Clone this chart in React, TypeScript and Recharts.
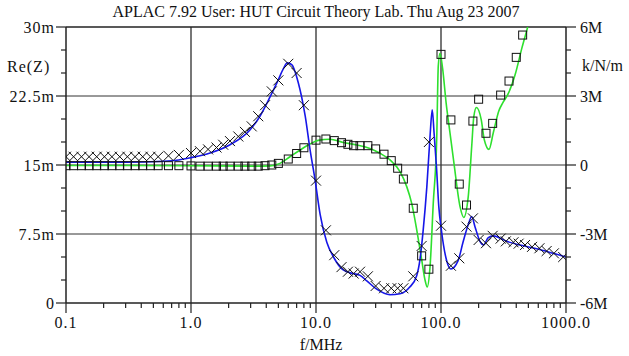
import { ComposedChart, Line, XAxis, YAxis, ReferenceLine } from 'recharts'

const FONT = 'Liberation Serif'
const BLUE = '#1616e8'
const GREEN = '#2ee02e'
const INK = '#222'

// simulated Re(Z) in mOhm (left axis)
const zSimFreq = [0.1, 0.3, 0.6, 0.8, 1.0, 1.42, 2.05, 2.96, 3.56, 4.29, 4.97, 5.5, 5.9, 6.4, 7.2, 8.2, 9.0, 9.8, 10.8, 12.2, 13.8, 16.5, 19.8, 22.5, 25.5, 30.6, 39, 47, 56, 64, 68, 72, 77, 81.7, 85.1, 88, 92, 96, 101, 111, 120, 137, 150, 165, 176, 187, 205, 218, 239, 262, 336, 428, 583, 791, 1000]
const zSimVal = [15.3, 15.3, 15.4, 15.55, 15.8, 16.3, 17.2, 18.8, 20.3, 22.4, 24.2, 25.5, 26.1, 25.9, 24.0, 20.3, 16.5, 13.5, 9.6, 6.6, 5.0, 3.6, 3.2, 3.0, 2.4, 1.5, 0.9, 1.0, 1.7, 3.0, 4.8, 7.9, 12.6, 18.1, 21.0, 18.5, 14.8, 10.5, 7.8, 4.6, 3.7, 4.6, 6.6, 8.5, 9.4, 8.3, 6.7, 6.3, 7.1, 7.3, 6.7, 6.3, 5.9, 5.4, 5.0]

// simulated k in M (right axis)
const kSimFreq = [0.1, 1, 3, 4.29, 5.15, 6.19, 7.45, 8.95, 10.4, 12.9, 16.5, 21.2, 27, 32.5, 39.1, 47, 53.2, 58.3, 64, 70.1, 74.5, 77.6, 81.7, 86.7, 92.5, 95.1, 98.2, 103, 110, 118, 127, 142, 152, 165, 176, 183, 192, 210, 222, 242, 262, 290, 312, 345, 391, 443, 499, 560]
const kSimVal = [-0.02, -0.03, -0.05, -0.04, 0.07, 0.36, 0.65, 0.91, 1.07, 1.12, 0.98, 0.87, 0.72, 0.51, 0.22, -0.29, -0.94, -1.67, -2.83, -4.13, -5.0, -5.3, -4.43, -1.67, 1.23, 4.3, 4.86, 4.2, 2.68, 1.4, 0.07, -1.81, -2.28, -1.4, 0.8, 2.1, 2.5, 1.96, 1.1, 0.68, 1.4, 2.35, 2.7, 3.1, 3.91, 5.07, 6.09, 7.2]

// measured Re(Z) (crosses)
const zMeasFreq = [0.1, 0.115, 0.133, 0.153, 0.176, 0.203, 0.233, 0.269, 0.31, 0.357, 0.411, 0.474, 0.546, 0.66, 0.8, 1.0, 1.18, 1.37, 1.6, 1.81, 2.05, 2.39, 2.7, 3.06, 3.45, 3.91, 4.43, 5.0, 6.0, 7.0, 8.0, 10, 12, 14, 16, 18, 20, 22.5, 26, 30, 35, 40, 45, 50, 60, 70, 80, 100, 120, 140, 160, 180, 200, 229, 259, 300, 330, 380, 418, 470, 535, 613, 700, 800, 950]
const zMeasVal = [15.9, 15.9, 15.9, 15.9, 15.9, 15.9, 15.9, 15.9, 15.9, 15.9, 15.9, 15.9, 15.9, 16.0, 16.1, 16.3, 16.5, 16.7, 16.9, 17.2, 17.6, 18.1, 18.6, 19.2, 20.3, 21.5, 23.0, 24.2, 26.0, 25.0, 21.5, 13.3, 7.9, 5.2, 3.9, 3.4, 3.2, 3.4, 2.9, 1.85, 1.6, 1.6, 1.6, 1.6, 2.9, 6.2, 17.5, 8.4, 4.05, 4.86, 8.3, 9.2, 6.85, 6.5, 7.3, 7.0, 6.7, 6.6, 6.45, 6.3, 6.1, 5.95, 5.65, 5.4, 5.0]

// measured k (squares)
const kMeasFreq = [0.1, 0.115, 0.133, 0.153, 0.176, 0.203, 0.233, 0.269, 0.31, 0.357, 0.411, 0.474, 0.546, 0.66, 0.8, 1.0, 1.18, 1.37, 1.6, 1.81, 2.05, 2.39, 2.7, 3.06, 3.45, 3.91, 4.43, 5.0, 6.0, 7.0, 8.0, 10, 12, 14, 16, 18, 20, 22.5, 26, 30, 35, 40, 45, 50, 60, 70, 80, 100, 120, 140, 160, 180, 200, 229, 259, 300, 350, 400, 450]
const kMeasVal = [-0.03, -0.03, -0.03, -0.03, -0.03, -0.03, -0.03, -0.03, -0.03, -0.03, -0.03, -0.03, -0.03, -0.03, -0.03, -0.04, -0.05, -0.05, -0.05, -0.05, -0.05, -0.05, -0.05, -0.05, -0.05, -0.03, 0.0, 0.07, 0.26, 0.5, 0.75, 1.08, 1.13, 1.06, 0.97, 0.9, 0.84, 0.84, 0.84, 0.7, 0.47, 0.19, -0.14, -0.61, -1.88, -3.95, -4.53, 4.81, 1.96, -0.83, -1.74, 1.91, 2.86, 1.38, 1.81, 3.04, 3.65, 4.68, 5.65]

const xTicks = [0.1, 0.2, 0.3, 0.4, 0.5, 0.6, 0.7, 0.8, 0.9, 1, 2, 3, 4, 5, 6, 7, 8, 9, 10, 20, 30, 40, 50, 60, 70, 80, 90, 100, 200, 300, 400, 500, 600, 700, 800, 900, 1000]
const zTicks = [0, 2.5, 5, 7.5, 10, 12.5, 15, 17.5, 20, 22.5, 25, 27.5, 30]
const kTicks = [-6, -5, -4, -3, -2, -1, 0, 1, 2, 3, 4, 5, 6]
const xGrid = [1, 10, 100]
const yGrid = [7.5, 15, 22.5]

const pairs = (fs: number[], vs: number[]) => fs.map((f, i) => ({ f, v: vs[i] }))

// plain svg text in the APLAC serif look
function T(props: any) {
  return <text fontFamily={FONT} fontSize={16} fill="#111" {...props} />
}

function BottomTick({ x, y, payload }: any) {
  const v = payload.value
  const lg = Math.log10(v)
  const major = Math.abs(lg - Math.round(lg)) < 1e-6
  return (
    <g>
      <line x1={x} x2={x} y1={y} y2={y + (major ? 10 : 5)} stroke={INK} strokeWidth={1.2} />
      {major && (
        <T x={x} y={y + 25} textAnchor="middle" letterSpacing={1}>
          {v.toFixed(1)}
        </T>
      )}
    </g>
  )
}

function LeftTick({ x, y, payload }: any) {
  const v = payload.value
  const major = v % 7.5 === 0
  return (
    <g>
      <line x1={x - (major ? 10 : 5)} x2={x} y1={y} y2={y} stroke={INK} strokeWidth={1.2} />
      {major && (
        <T x={x - 11} y={y + 5.5} textAnchor="end" letterSpacing={1}>
          {v === 0 ? '0' : `${v}m`}
        </T>
      )}
    </g>
  )
}

function RightTick({ x, y, payload }: any) {
  const v = payload.value
  const major = v % 3 === 0
  return (
    <g>
      <line x1={x} x2={x + (major ? 10 : 5)} y1={y} y2={y} stroke={INK} strokeWidth={1.2} />
      {major && (
        <T x={x + 14} y={y + 5.5} textAnchor="start">
          {v === 0 ? '0' : `${v}M`}
        </T>
      )}
    </g>
  )
}

const crossDot = (p: any) => {
  const { cx, cy, index } = p
  if (cx == null || cy == null) return <g key={`c${index}`} />
  const s = 5
  return (
    <path
      key={`c${index}`}
      d={`M${cx - s},${cy - s}L${cx + s},${cy + s}M${cx - s},${cy + s}L${cx + s},${cy - s}`}
      stroke="#111"
      strokeWidth={1}
      fill="none"
    />
  )
}

const squareDot = (p: any) => {
  const { cx, cy, index } = p
  if (cx == null || cy == null) return <g key={`s${index}`} />
  return (
    <rect key={`s${index}`} x={cx - 4} y={cy - 4} width={8} height={8} stroke="#111" strokeWidth={1} fill="none" />
  )
}

export default function App() {
  return (
    <div style={{ position: 'absolute', left: 0, top: 0, background: '#fff' }}>
      <ComposedChart width={629} height={356} margin={{ top: 27, right: 0, bottom: 0, left: 0 }}>
        <XAxis
          xAxisId="f"
          dataKey="f"
          type="number"
          scale="log"
          domain={[0.1, 1000]}
          allowDataOverflow
          ticks={xTicks}
          interval={0}
          tickSize={0}
          tickMargin={0}
          tickLine={false}
          tick={BottomTick}
          height={53}
          axisLine={{ stroke: INK, strokeWidth: 1.5 }}
        />
        <YAxis
          yAxisId="z"
          orientation="left"
          type="number"
          domain={[0, 30]}
          allowDataOverflow
          ticks={zTicks}
          interval={0}
          tickSize={0}
          tickMargin={0}
          tickLine={false}
          tick={LeftTick}
          width={66}
          axisLine={{ stroke: INK, strokeWidth: 1.5 }}
        />
        <YAxis
          yAxisId="k"
          orientation="right"
          type="number"
          domain={[-6, 6]}
          allowDataOverflow
          ticks={kTicks}
          interval={0}
          tickSize={0}
          tickMargin={0}
          tickLine={false}
          tick={RightTick}
          width={63}
          axisLine={{ stroke: INK, strokeWidth: 1.5 }}
        />
        {xGrid.map((g) => (
          <ReferenceLine key={`gx${g}`} xAxisId="f" yAxisId="z" x={g} stroke="#777" strokeWidth={2} />
        ))}
        {yGrid.map((g) => (
          <ReferenceLine key={`gy${g}`} xAxisId="f" yAxisId="z" y={g} stroke="#333" strokeWidth={1} />
        ))}
        <ReferenceLine xAxisId="f" yAxisId="z" y={30} stroke={INK} strokeWidth={1.5} />
        <Line
          xAxisId="f"
          yAxisId="k"
          data={pairs(kSimFreq, kSimVal)}
          dataKey="v"
          type="monotone"
          stroke={GREEN}
          strokeWidth={1.6}
          dot={false}
          isAnimationActive={false}
        />
        <Line
          xAxisId="f"
          yAxisId="z"
          data={pairs(zSimFreq, zSimVal)}
          dataKey="v"
          type="monotone"
          stroke={BLUE}
          strokeWidth={1.6}
          dot={false}
          isAnimationActive={false}
        />
        <Line
          xAxisId="f"
          yAxisId="k"
          data={pairs(kMeasFreq, kMeasVal)}
          dataKey="v"
          stroke="none"
          dot={squareDot}
          activeDot={false}
          isAnimationActive={false}
        />
        <Line
          xAxisId="f"
          yAxisId="z"
          data={pairs(zMeasFreq, zMeasVal)}
          dataKey="v"
          stroke="none"
          dot={crossDot}
          activeDot={false}
          isAnimationActive={false}
        />
        <T x={316} y={17} textAnchor="middle">
          APLAC 7.92 User: HUT Circuit Theory Lab. Thu Aug 23 2007
        </T>
        <T x={7} y={72} letterSpacing={1}>
          Re(Z)
        </T>
        <T x={582} y={71}>
          k/N/m
        </T>
        <T x={321} y={350} textAnchor="middle">
          f/MHz
        </T>
      </ComposedChart>
    </div>
  )
}
